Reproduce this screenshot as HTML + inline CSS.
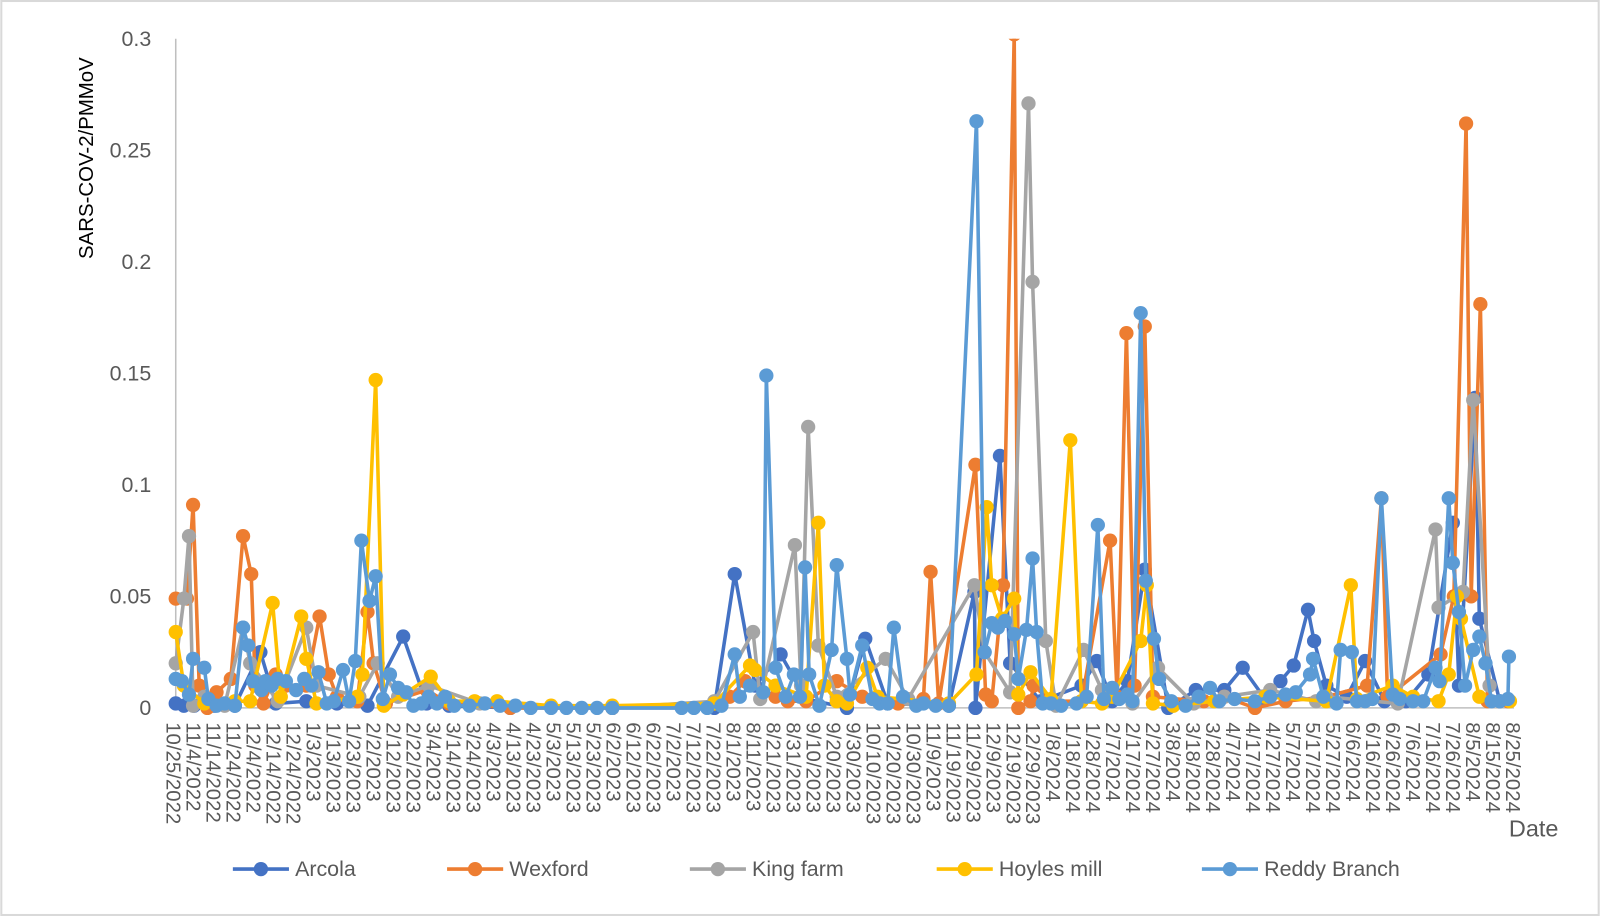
<!DOCTYPE html>
<html><head><meta charset="utf-8"><style>
html,body{margin:0;padding:0;background:#fff;}
svg{display:block;font-family:"Liberation Sans",sans-serif;}
</style></head><body>
<svg id="c" width="1600" height="916" viewBox="0 0 1568 898" xmlns="http://www.w3.org/2000/svg">
<rect x="1" y="1" width="1566" height="896" fill="#fff" stroke="#d9d9d9" stroke-width="2"/>
<defs><clipPath id="cp"><rect x="150" y="38" width="1360" height="680"/></clipPath></defs>
<g id="yt" fill="#595959" font-size="21" text-anchor="end"></g>
<text transform="translate(91,155) rotate(-90)" text-anchor="middle" font-size="20" fill="#000">SARS-COV-2/PMMoV</text>
<line x1="172" y1="38" x2="172" y2="694" stroke="#bfbfbf" stroke-width="1.5"/>
<line x1="172" y1="694" x2="1484" y2="694" stroke="#bfbfbf" stroke-width="1.5"/>
<g id="xt" fill="#595959" font-size="20"></g>
<g id="series" clip-path="url(#cp)"></g>
<text x="1479" y="820" font-size="23" fill="#595959">Date</text>
<g id="leg" font-size="21" fill="#595959"></g>
</svg>
<script>
const NS="http://www.w3.org/2000/svg";
const Y=v=>694-Math.min(v,0.302)/0.3*656;
const yt=document.getElementById('yt');
[0,0.05,0.1,0.15,0.2,0.25,0.3].forEach(v=>{const t=document.createElementNS(NS,'text');t.setAttribute('x',148);t.setAttribute('y',Y(v)+7);t.textContent=String(v);yt.appendChild(t);});
const xt=document.getElementById('xt');
let d=new Date(2022,9,25);
for(let i=0;i<68;i++){const x=170+i*19.6;const t=document.createElementNS(NS,'text');
t.setAttribute('transform',`translate(${x-7},708) rotate(90)`);
t.textContent=(d.getMonth()+1)+'/'+d.getDate()+'/'+d.getFullYear();xt.appendChild(t);d.setDate(d.getDate()+10);}
const S=[
["#4472C4",[172,.002,180,.001,190,.001,210,.001,230,.001,255,.025,270,.002,300,.003,330,.002,360,.001,395,.032,418,.002,440,.001,500,0,600,0,700,0,720,.06,740,.01,765,.024,790,.004,830,0,848,.031,870,.002,930,.001,955,.052,956,0,980,.113,990,.02,1020,.003,1060,.01,1075,.021,1090,.003,1105,.012,1122,.062,1145,0,1172,.008,1200,.008,1218,.018,1240,.004,1255,.012,1268,.019,1282,.044,1288,.03,1300,.01,1320,.005,1338,.021,1357,.003,1378,.003,1400,.015,1424,.083,1430,.01,1446,.139,1450,.04,1470,.003]],
["#ED7D31",[172,.049,183,.049,189,.091,195,.01,203,0,212,.007,226,.013,238,.077,246,.06,250,.01,258,.002,270,.015,280,.01,300,.01,313,.041,322,.015,330,.005,350,.003,360,.043,366,.02,378,.002,418,.008,440,.002,500,0,600,0,700,.002,715,.005,730,.012,760,.005,772,.003,790,.003,820,.012,845,.005,880,.002,905,.004,912,.061,920,.002,956,.109,966,.006,972,.003,983,.055,994,.31,998,0,1010,.003,1013,.01,1030,.003,1060,.003,1088,.075,1095,.005,1104,.168,1112,.01,1122,.171,1130,.005,1180,.003,1200,.005,1230,0,1260,.003,1300,.005,1340,.01,1354,.094,1360,.005,1412,.024,1425,.05,1437,.262,1442,.05,1451,.181,1458,.003,1478,.003]],
["#A5A5A5",[172,.02,180,.049,185,.077,189,.001,200,.005,220,.001,238,.036,245,.02,272,.003,300,.036,310,.01,352,.005,370,.02,390,.005,420,.01,470,.002,600,0,700,.003,738,.034,745,.004,779,.073,785,.01,792,.126,802,.028,820,.005,868,.022,890,.004,955,.055,965,.025,990,.007,1008,.271,1012,.191,1025,.03,1035,.001,1062,.026,1080,.008,1110,.002,1135,.018,1170,.002,1200,.005,1245,.008,1290,.003,1300,.005,1370,.002,1407,.08,1410,.045,1434,.052,1444,.138,1460,.01]],
["#FFC000",[172,.034,180,.01,200,.002,230,.003,245,.003,267,.047,275,.005,295,.041,300,.022,310,.002,350,.005,355,.015,368,.147,376,.001,395,.006,422,.014,440,.003,465,.003,487,.003,540,.001,600,.001,700,.002,735,.019,740,.017,760,.01,790,.005,802,.083,808,.01,820,.003,830,.002,850,.018,860,.005,930,.002,957,.015,967,.09,972,.055,982,.04,994,.049,998,.006,1010,.016,1030,.004,1049,.12,1060,.003,1080,.002,1090,.005,1118,.03,1124,.055,1130,.002,1150,.001,1190,.003,1240,.005,1300,.003,1324,.055,1330,.004,1365,.01,1385,.005,1410,.003,1420,.015,1428,.05,1432,.04,1450,.005,1480,.003]],
["#5B9BD5",[172,.013,178,.012,185,.006,189,.022,200,.018,204,.004,212,.001,220,.002,230,.001,238,.036,243,.028,248,.012,256,.008,260,.012,266,.01,272,.013,280,.012,290,.008,298,.013,305,.01,312,.016,320,.002,327,.003,336,.017,342,.003,348,.021,354,.075,362,.048,368,.059,375,.004,382,.015,390,.009,398,.007,405,.001,413,.002,420,.005,428,.002,436,.005,445,.001,460,.001,475,.002,490,.001,505,.001,520,0,540,0,555,0,570,0,585,0,600,0,668,0,680,0,693,0,707,.001,720,.024,725,.005,735,.01,748,.007,751,.149,760,.018,770,.005,778,.015,784,.005,789,.063,793,.015,803,.001,815,.026,820,.064,830,.022,833,.006,845,.028,855,.004,862,.002,870,.002,876,.036,885,.005,898,.001,905,.002,917,.001,930,.001,957,.263,965,.025,972,.038,978,.036,985,.039,994,.033,998,.013,1006,.035,1012,.067,1016,.034,1022,.002,1030,.002,1040,.001,1055,.002,1065,.005,1076,.082,1082,.004,1090,.009,1097,.004,1105,.006,1110,.003,1118,.177,1123,.057,1131,.031,1136,.013,1148,.003,1162,.001,1175,.005,1186,.009,1195,.003,1210,.004,1230,.003,1245,.005,1260,.006,1270,.007,1284,.015,1287,.022,1297,.005,1310,.002,1314,.026,1325,.025,1330,.003,1338,.003,1345,.004,1354,.094,1365,.006,1372,.004,1385,.003,1395,.003,1407,.018,1411,.012,1420,.094,1424,.065,1430,.043,1436,.01,1444,.026,1450,.032,1456,.02,1462,.003,1470,.003,1478,.004,1479,.023]]
];
const g=document.getElementById('series');
S.forEach(([c,a])=>{const pts=[];for(let i=0;i<a.length;i+=2){pts.push([a[i],Y(a[i+1])]);}
const pl=document.createElementNS(NS,'polyline');pl.setAttribute('points',pts.map(q=>q.join(',')).join(' '));
pl.setAttribute('fill','none');pl.setAttribute('stroke',c);pl.setAttribute('stroke-width','3.5');pl.setAttribute('stroke-linejoin','round');g.appendChild(pl);
pts.forEach(q=>{const ci=document.createElementNS(NS,'circle');ci.setAttribute('cx',q[0]);ci.setAttribute('cy',q[1]);ci.setAttribute('r',7);ci.setAttribute('fill',c);g.appendChild(ci);});});
const L=[["Arcola",228,"#4472C4"],["Wexford",438,"#ED7D31"],["King farm",676,"#A5A5A5"],["Hoyles mill",918,"#FFC000"],["Reddy Branch",1178,"#5B9BD5"]];
const lg=document.getElementById('leg');
L.forEach(([n,x,c])=>{lg.insertAdjacentHTML('beforeend',`<line x1="${x}" y1="852" x2="${x+55}" y2="852" stroke="${c}" stroke-width="3.5"/><circle cx="${x+27.5}" cy="852" r="7" fill="${c}"/><text x="${x+61}" y="859">${n}</text>`);});
</script>
</body></html>
